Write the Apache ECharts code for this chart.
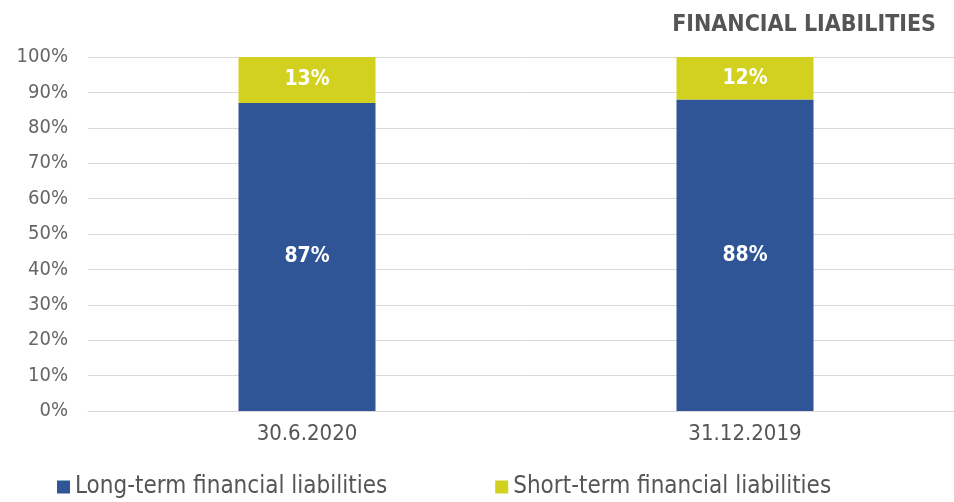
<!DOCTYPE html>
<html>
<head>
<meta charset="utf-8">
<script src="https://cdn.jsdelivr.net/npm/echarts@6/dist/echarts.min.js"></script>
<style>
  html, body { margin: 0; padding: 0; background: #fff; }
  #chart { width: 954px; height: 502px; }
</style>
</head>
<body>
<div id="chart"></div>
<script>
// financial liabilities split, stacked to 100%
var categories = ['30.6.2020', '31.12.2019'];
var longTerm = [87, 88];
var shortTerm = [13, 12];
var seriesNames = ['Long-term financial liabilities', 'Short-term financial liabilities'];

var FONT = '"Liberation Sans Narrow", "DejaVu Sans Condensed", "Roboto", sans-serif';

var chart = echarts.init(document.getElementById('chart'));
var option = {
    animation: false,
    title: {
        text: 'FINANCIAL LIABILITIES',
        right: 13,
        top: 9,
        textStyle: { fontFamily: FONT, fontSize: 23, fontWeight: 'bold', color: '#555' }
    },
    legend: {
        bottom: -2,
        left: 52,
        itemGap: 108,
        itemWidth: 13,
        itemHeight: 13,
        icon: 'rect',
        textStyle: { fontFamily: FONT, fontSize: 24, color: '#555' },
        data: seriesNames
    },
    grid: { left: 88, width: 876, top: 57, bottom: 91, outerBoundsMode: 'none' },
    xAxis: {
        type: 'category',
        data: categories,
        axisLine: { lineStyle: { color: '#d9d9d9' } },
        axisTick: { show: false },
        axisLabel: { fontFamily: FONT, fontSize: 22, color: '#555', margin: 12 }
    },
    yAxis: {
        type: 'value',
        min: 0,
        max: 100,
        interval: 10,
        axisLine: { show: false },
        axisTick: { show: false },
        axisLabel: { fontFamily: FONT, fontSize: 20, color: '#666', margin: 20, formatter: '{value}%' },
        splitLine: { lineStyle: { color: '#d9d9d9', width: 1 } }
    },
    series: [
        {
            name: seriesNames[0],
            type: 'bar',
            stack: 'total',
            barWidth: 137,
            data: longTerm,
            itemStyle: { color: '#2F5597' },
            label: { show: true, position: 'inside', formatter: '{c}%', color: '#fff',
                     fontFamily: FONT, fontSize: 21, fontWeight: 'bold' }
        },
        {
            name: seriesNames[1],
            type: 'bar',
            stack: 'total',
            barWidth: 137,
            data: shortTerm,
            itemStyle: { color: '#D3D11F' },
            label: { show: true, position: 'inside', formatter: '{c}%', color: '#fff',
                     fontFamily: FONT, fontSize: 21, fontWeight: 'bold' }
        }
    ]
};
chart.setOption(option);
</script>
</body>
</html>
